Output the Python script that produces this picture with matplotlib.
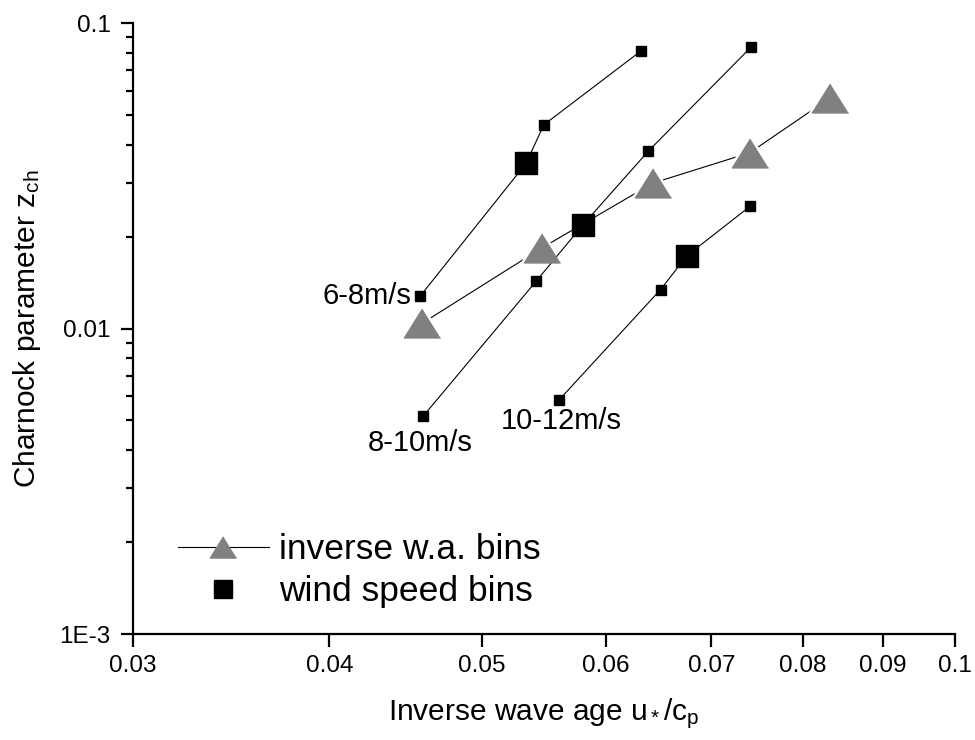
import matplotlib
matplotlib.use("Agg")
from matplotlib import pyplot as plt
from matplotlib.lines import Line2D
from matplotlib.ticker import FixedLocator, FixedFormatter, NullFormatter

plt.rcParams['font.family'] = ['Liberation Sans', 'DejaVu Sans']
plt.rcParams['mathtext.fontset'] = 'custom'
plt.rcParams['mathtext.rm'] = 'Liberation Sans'
plt.rcParams['mathtext.it'] = 'Liberation Sans'
plt.rcParams['mathtext.default'] = 'regular'

# wind speed bins (small squares = individual, big square = bin mean)
ws_labels = ["6-8m/s", "8-10m/s", "10-12m/s"]
ws_x = [[0.04568, 0.05335, 0.05476, 0.06317],
        [0.04588, 0.05417, 0.05800, 0.06382, 0.07417],
        [0.05599, 0.06497, 0.06754, 0.07406]]
ws_y = [[0.01275, 0.03469, 0.04642, 0.08118],
        [0.005159, 0.01432, 0.02187, 0.03808, 0.08330],
        [0.005832, 0.01341, 0.01732, 0.02510]]
ws_mean_idx = [1, 2, 2]

# inverse wave age bins
iwa_x = [0.04583, 0.05460, 0.06426, 0.07403, 0.08329]
iwa_y = [0.01041, 0.01835, 0.02993, 0.03760, 0.05686]

x_ticks = [0.03, 0.04, 0.05, 0.06, 0.07, 0.08, 0.09, 0.1]
x_ticklabels = ["0.03", "0.04", "0.05", "0.06", "0.07", "0.08", "0.09", "0.1"]
y_ticks = [1e-3, 1e-2, 1e-1]
y_ticklabels = ["1E-3", "0.01", "0.1"]

gray = "#808080"
tri = [(0, 0.8), (-1, -0.8), (1, -0.8)]

fig = plt.figure(figsize=(9.75, 7.4), dpi=100)
ax = fig.add_axes([0.1364, 0.1432, 0.8430, 0.8257])
ax.set_xscale("log")
ax.set_yscale("log")

# triangle series: line with gaps around markers
ax.plot(iwa_x, iwa_y, color="black", lw=0.8, zorder=1)
ax.plot(iwa_x, iwa_y, ls="none", marker=tri, ms=34, color="white", zorder=2)

for k in range(3):
    ax.plot(ws_x[k], ws_y[k], color="black", lw=0.8, zorder=3)
    small = [i for i in range(len(ws_x[k])) if i != ws_mean_idx[k]]
    ax.plot([ws_x[k][i] for i in small], [ws_y[k][i] for i in small],
            ls="none", marker="s", ms=7.5, color="black", zorder=5)
    m = ws_mean_idx[k]
    ax.plot([ws_x[k][m]], [ws_y[k][m]], ls="none", marker="s", ms=15.5,
            color="black", zorder=5)

ax.plot(iwa_x, iwa_y, ls="none", marker=tri, ms=26, color=gray, zorder=4)

# group labels next to first point of each group
ax.annotate(ws_labels[0], (ws_x[0][0], ws_y[0][0]), xytext=(-6, 0),
            textcoords="offset points", ha="right", va="center", fontsize=21)
ax.annotate(ws_labels[1], (ws_x[1][0], ws_y[1][0]), xytext=(-2, -19),
            textcoords="offset points", ha="center", va="center", fontsize=21)
ax.annotate(ws_labels[2], (ws_x[2][0], ws_y[2][0]), xytext=(2, -15),
            textcoords="offset points", ha="center", va="center", fontsize=21)

ax.set_xlim(0.03, 0.1)
ax.set_ylim(1e-3, 0.1)
ax.xaxis.set_major_locator(FixedLocator(x_ticks))
ax.xaxis.set_major_formatter(FixedFormatter(x_ticklabels))
ax.xaxis.set_minor_locator(FixedLocator([]))
ax.xaxis.set_minor_formatter(NullFormatter())
ax.yaxis.set_major_locator(FixedLocator(y_ticks))
ax.yaxis.set_major_formatter(FixedFormatter(y_ticklabels))
ax.yaxis.set_minor_locator(FixedLocator([d * j for d in [1e-3, 1e-2] for j in range(2, 10)]))
ax.yaxis.set_minor_formatter(NullFormatter())

ax.spines["top"].set_visible(False)
ax.spines["right"].set_visible(False)
ax.spines["left"].set_linewidth(1.6)
ax.spines["bottom"].set_linewidth(1.6)
ax.tick_params(which="major", direction="out", length=9, width=1.6, labelsize=17.5, pad=6)
ax.tick_params(axis="y", which="major", pad=7)
ax.tick_params(which="minor", direction="out", length=5, width=1.6)

ax.set_xlabel(r"Inverse wave age u$_*$/c$_p$", fontsize=21.5, labelpad=14)
ax.set_ylabel(r"Charnock parameter z$_{ch}$", fontsize=21.5, labelpad=12)

handles = [Line2D([], [], color="black", lw=0.8, marker=tri, ms=19,
                  markerfacecolor=gray, markeredgecolor=gray),
           Line2D([], [], ls="none", marker="s", ms=13.5, color="black")]
ax.legend(handles, ["inverse w.a. bins", "wind speed bins"], loc="upper left",
          bbox_to_anchor=(0.055, 0.165), frameon=False, fontsize=25.5,
          handlelength=2.55, handletextpad=0.3, borderpad=0, borderaxespad=0,
          labelspacing=0.26)

fig.savefig("out.png", dpi=100)
